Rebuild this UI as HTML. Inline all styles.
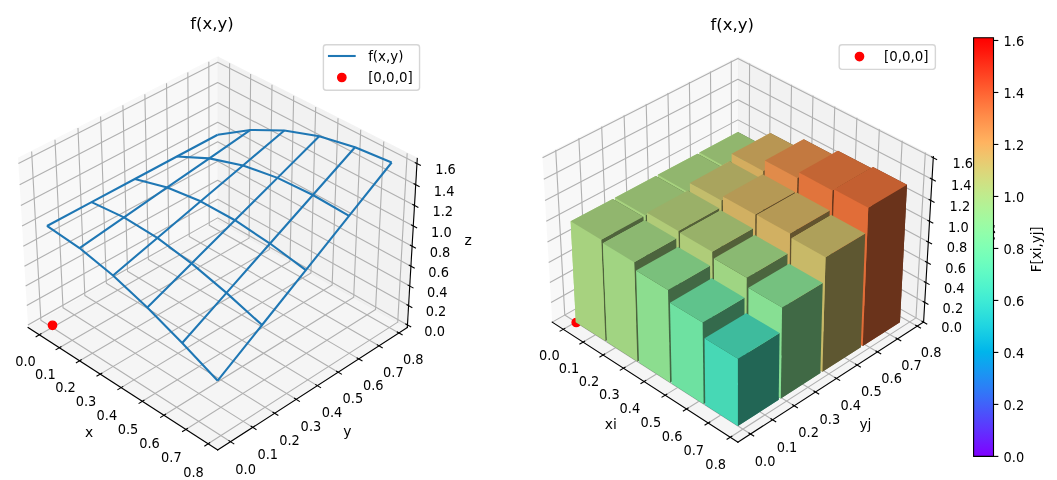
<!DOCTYPE html>
<html><head><meta charset="utf-8"><title>f(x,y)</title>
<style>html,body{margin:0;padding:0;background:#fff;overflow:hidden}svg{display:block}text{font-family:"DejaVu Sans","Liberation Sans",sans-serif}</style></head>
<body>
<svg width="1057" height="480" viewBox="0 0 761.04 345.6" version="1.1">
 
 <defs>
  <style type="text/css">*{stroke-linejoin: round; stroke-linecap: butt}</style>
 </defs>
 <g id="figure_1">
  <g id="patch_1">
   <path d="M 0 345.6 
L 761.04 345.6 
L 761.04 0 
L 0 0 
z
" style="fill: #ffffff"/>
  </g>
  <g id="pane3d_1">
   <g id="patch_2">
    <path d="M 20.207757 235.79651 
L 156.732149 158.686188 
L 156.732149 41.211562 
L 13.03231 114.061227 
" style="fill: #f2f2f2; opacity: 0.5; stroke: #f2f2f2; stroke-linejoin: miter"/>
   </g>
  </g>
  <g id="pane3d_2">
   <g id="patch_3">
    <path d="M 156.732149 158.686188 
L 293.256541 235.79651 
L 300.431988 114.061227 
L 156.732149 41.211562 
" style="fill: #e6e6e6; opacity: 0.5; stroke: #e6e6e6; stroke-linejoin: miter"/>
   </g>
  </g>
  <g id="pane3d_3">
   <g id="patch_4">
    <path d="M 20.207757 235.79651 
L 156.732149 324.023113 
L 293.256541 235.79651 
L 156.732149 158.686188 
" style="fill: #ececec; opacity: 0.5; stroke: #ececec; stroke-linejoin: miter"/>
   </g>
  </g>
  <g id="grid3d_1">
   <g id="Line3DCollection_1">
    <path d="M 28.34474 241.054899 
L 164.90387 163.301656 
L 165.306667 45.558476 
" style="fill: none; stroke: #b0b0b0; stroke-width: 0.8"/>
    <path d="M 42.725394 250.348156 
L 179.335109 171.452562 
L 180.457524 53.239311 
" style="fill: none; stroke: #b0b0b0; stroke-width: 0.8"/>
    <path d="M 57.325142 259.782998 
L 193.972107 179.719683 
L 195.835207 61.035138 
" style="fill: none; stroke: #b0b0b0; stroke-width: 0.8"/>
    <path d="M 72.149027 269.362686 
L 208.819295 188.105521 
L 211.444848 68.948558 
" style="fill: none; stroke: #b0b0b0; stroke-width: 0.8"/>
    <path d="M 87.202252 279.090581 
L 223.881234 196.612653 
L 227.291736 76.982251 
" style="fill: none; stroke: #b0b0b0; stroke-width: 0.8"/>
    <path d="M 102.490181 288.970148 
L 239.162617 205.243728 
L 243.381319 85.138981 
" style="fill: none; stroke: #b0b0b0; stroke-width: 0.8"/>
    <path d="M 118.018344 299.004964 
L 254.668275 214.001477 
L 259.719218 93.421596 
" style="fill: none; stroke: #b0b0b0; stroke-width: 0.8"/>
    <path d="M 133.792451 309.198716 
L 270.403181 222.888707 
L 276.311225 101.833033 
" style="fill: none; stroke: #b0b0b0; stroke-width: 0.8"/>
    <path d="M 149.818389 319.555211 
L 286.372458 231.908312 
L 293.163314 110.37632 
" style="fill: none; stroke: #b0b0b0; stroke-width: 0.8"/>
   </g>
  </g>
  <g id="grid3d_2">
   <g id="Line3DCollection_2">
    <path d="M 22.77815 109.120503 
L 29.438462 230.582917 
L 166.001924 318.032676 
" style="fill: none; stroke: #b0b0b0; stroke-width: 0.8"/>
    <path d="M 39.591883 100.596661 
L 45.373192 221.582825 
L 181.990716 307.700187 
" style="fill: none; stroke: #b0b0b0; stroke-width: 0.8"/>
    <path d="M 56.146417 92.204221 
L 61.074308 212.71468 
L 197.728548 297.529876 
" style="fill: none; stroke: #b0b0b0; stroke-width: 0.8"/>
    <path d="M 72.4477 83.940169 
L 76.546911 203.975601 
L 213.221281 287.517957 
" style="fill: none; stroke: #b0b0b0; stroke-width: 0.8"/>
    <path d="M 88.501499 75.80158 
L 91.795953 195.362792 
L 228.474597 277.660757 
" style="fill: none; stroke: #b0b0b0; stroke-width: 0.8"/>
    <path d="M 104.313408 67.785619 
L 106.826245 186.873535 
L 243.494004 267.954716 
" style="fill: none; stroke: #b0b0b0; stroke-width: 0.8"/>
    <path d="M 119.888853 59.889535 
L 121.64246 178.50519 
L 258.284841 258.396386 
" style="fill: none; stroke: #b0b0b0; stroke-width: 0.8"/>
    <path d="M 135.233099 52.11066 
L 136.24914 170.255193 
L 272.852285 248.982419 
" style="fill: none; stroke: #b0b0b0; stroke-width: 0.8"/>
    <path d="M 150.351256 44.446402 
L 150.650698 162.121051 
L 287.201362 239.709568 
" style="fill: none; stroke: #b0b0b0; stroke-width: 0.8"/>
   </g>
  </g>
  <g id="grid3d_3">
   <g id="Line3DCollection_3">
    <path d="M 293.366452 233.931807 
L 156.732149 156.880882 
L 20.097846 233.931807 
" style="fill: none; stroke: #b0b0b0; stroke-width: 0.8"/>
    <path d="M 294.186153 220.02514 
L 156.732149 143.422961 
L 19.278145 220.02514 
" style="fill: none; stroke: #b0b0b0; stroke-width: 0.8"/>
    <path d="M 295.015749 205.950607 
L 156.732149 129.812948 
L 18.448549 205.950607 
" style="fill: none; stroke: #b0b0b0; stroke-width: 0.8"/>
    <path d="M 295.855419 191.70515 
L 156.732149 116.048251 
L 17.608879 191.70515 
" style="fill: none; stroke: #b0b0b0; stroke-width: 0.8"/>
    <path d="M 296.705349 177.285637 
L 156.732149 102.126217 
L 16.758949 177.285637 
" style="fill: none; stroke: #b0b0b0; stroke-width: 0.8"/>
    <path d="M 297.565728 162.688858 
L 156.732149 88.044133 
L 15.898571 162.688858 
" style="fill: none; stroke: #b0b0b0; stroke-width: 0.8"/>
    <path d="M 298.436749 147.911525 
L 156.732149 73.799224 
L 15.02755 147.911525 
" style="fill: none; stroke: #b0b0b0; stroke-width: 0.8"/>
    <path d="M 299.318611 132.950265 
L 156.732149 59.388649 
L 14.145688 132.950265 
" style="fill: none; stroke: #b0b0b0; stroke-width: 0.8"/>
    <path d="M 300.211518 117.801624 
L 156.732149 44.809501 
L 13.252781 117.801624 
" style="fill: none; stroke: #b0b0b0; stroke-width: 0.8"/>
   </g>
  </g>
  <g id="axis3d_1">
   <g id="line2d_1">
    <path d="M 20.207757 235.79651 
L 156.732149 324.023113 
" style="fill: none; stroke: #000000; stroke-width: 0.8; stroke-linecap: square"/>
   </g>
   <g id="xtick_1">
    <g id="line2d_2">
     <path d="M 29.51035 240.39123 
L 26.009737 242.384389 
" style="fill: none; stroke: #000000; stroke-width: 0.8; stroke-linecap: square"/>
    </g>
    <g id="text_1">
     <text style="font-size: 10px; font-family: 'DejaVu Sans', sans-serif; text-anchor: middle" transform="translate(18.334 263.590) scale(0.935 1)">0.0</text>
    </g>
   </g>
   <g id="xtick_2">
    <g id="line2d_3">
     <path d="M 43.891989 249.674418 
L 40.388391 251.697835 
" style="fill: none; stroke: #000000; stroke-width: 0.8; stroke-linecap: square"/>
    </g>
    <g id="text_2">
     <text style="font-size: 10px; font-family: 'DejaVu Sans', sans-serif; text-anchor: middle" transform="translate(32.657 273.004) scale(0.935 1)">0.1</text>
    </g>
   </g>
   <g id="xtick_3">
    <g id="line2d_4">
     <path d="M 58.492616 259.098959 
L 54.986347 261.15333 
" style="fill: none; stroke: #000000; stroke-width: 0.8; stroke-linecap: square"/>
    </g>
    <g id="text_3">
     <text style="font-size: 10px; font-family: 'DejaVu Sans', sans-serif; text-anchor: middle" transform="translate(47.198 282.560) scale(0.935 1)">0.2</text>
    </g>
   </g>
   <g id="xtick_4">
    <g id="line2d_5">
     <path d="M 73.317271 268.668108 
L 69.808662 270.754148 
" style="fill: none; stroke: #000000; stroke-width: 0.8; stroke-linecap: square"/>
    </g>
    <g id="text_4">
     <text style="font-size: 10px; font-family: 'DejaVu Sans', sans-serif; text-anchor: middle" transform="translate(61.963 292.264) scale(0.935 1)">0.3</text>
    </g>
   </g>
   <g id="xtick_5">
    <g id="line2d_6">
     <path d="M 88.371149 278.385218 
L 84.860548 280.503665 
" style="fill: none; stroke: #000000; stroke-width: 0.8; stroke-linecap: square"/>
    </g>
    <g id="text_5">
     <text style="font-size: 10px; font-family: 'DejaVu Sans', sans-serif; text-anchor: middle" transform="translate(76.957 302.118) scale(0.935 1)">0.4</text>
    </g>
   </g>
   <g id="xtick_6">
    <g id="line2d_7">
     <path d="M 103.65961 288.253749 
L 100.14738 290.405363 
" style="fill: none; stroke: #000000; stroke-width: 0.8; stroke-linecap: square"/>
    </g>
    <g id="text_6">
     <text style="font-size: 10px; font-family: 'DejaVu Sans', sans-serif; text-anchor: middle" transform="translate(92.185 312.125) scale(0.935 1)">0.5</text>
    </g>
   </g>
   <g id="xtick_7">
    <g id="line2d_8">
     <path d="M 119.188178 298.277266 
L 115.674702 300.462834 
" style="fill: none; stroke: #000000; stroke-width: 0.8; stroke-linecap: square"/>
    </g>
    <g id="text_7">
     <text style="font-size: 10px; font-family: 'DejaVu Sans', sans-serif; text-anchor: middle" transform="translate(107.652 322.291) scale(0.935 1)">0.6</text>
    </g>
   </g>
   <g id="xtick_8">
    <g id="line2d_9">
     <path d="M 134.962555 308.45945 
L 131.448234 310.679781 
" style="fill: none; stroke: #000000; stroke-width: 0.8; stroke-linecap: square"/>
    </g>
    <g id="text_8">
     <text style="font-size: 10px; font-family: 'DejaVu Sans', sans-serif; text-anchor: middle" transform="translate(123.365 332.617) scale(0.935 1)">0.7</text>
    </g>
   </g>
   <g id="xtick_9">
    <g id="line2d_10">
     <path d="M 150.988624 318.804099 
L 147.47388 321.060029 
" style="fill: none; stroke: #000000; stroke-width: 0.8; stroke-linecap: square"/>
    </g>
    <g id="text_9">
     <text style="font-size: 10px; font-family: 'DejaVu Sans', sans-serif; text-anchor: middle" transform="translate(139.329 343.109) scale(0.935 1)">0.8</text>
    </g>
   </g>
   <g id="text_10">
    <text style="font-size: 10px; font-family: 'DejaVu Sans', sans-serif; text-anchor: middle" transform="translate(64.087 314.735)">x</text>
   </g>
  </g>
  <g id="axis3d_2">
   <g id="line2d_11">
    <path d="M 293.256541 235.79651 
L 156.732149 324.023113 
" style="fill: none; stroke: #000000; stroke-width: 0.8; stroke-linecap: square"/>
   </g>
   <g id="xtick_10">
    <g id="line2d_12">
     <path d="M 164.831699 317.283311 
L 168.346408 319.53399 
" style="fill: none; stroke: #000000; stroke-width: 0.8; stroke-linecap: square"/>
    </g>
    <g id="text_11">
     <text style="font-size: 10px; font-family: 'DejaVu Sans', sans-serif; text-anchor: middle" transform="translate(176.842 341.134) scale(0.935 1)">0.0</text>
    </g>
   </g>
   <g id="xtick_11">
    <g id="line2d_13">
     <path d="M 180.820643 306.962626 
L 184.334866 309.17783 
" style="fill: none; stroke: #000000; stroke-width: 0.8; stroke-linecap: square"/>
    </g>
    <g id="text_12">
     <text style="font-size: 10px; font-family: 'DejaVu Sans', sans-serif; text-anchor: middle" transform="translate(192.769 330.667) scale(0.935 1)">0.1</text>
    </g>
   </g>
   <g id="xtick_12">
    <g id="line2d_14">
     <path d="M 196.558765 296.803844 
L 200.072083 298.984405 
" style="fill: none; stroke: #000000; stroke-width: 0.8; stroke-linecap: square"/>
    </g>
    <g id="text_13">
     <text style="font-size: 10px; font-family: 'DejaVu Sans', sans-serif; text-anchor: middle" transform="translate(208.446 320.364) scale(0.935 1)">0.2</text>
    </g>
   </g>
   <g id="xtick_13">
    <g id="line2d_15">
     <path d="M 212.051922 286.803185 
L 215.563937 288.949908 
" style="fill: none; stroke: #000000; stroke-width: 0.8; stroke-linecap: square"/>
    </g>
    <g id="text_14">
     <text style="font-size: 10px; font-family: 'DejaVu Sans', sans-serif; text-anchor: middle" transform="translate(223.878 310.222) scale(0.935 1)">0.3</text>
    </g>
   </g>
   <g id="xtick_14">
    <g id="line2d_16">
     <path d="M 227.305788 276.956985 
L 230.816121 279.070652 
" style="fill: none; stroke: #000000; stroke-width: 0.8; stroke-linecap: square"/>
    </g>
    <g id="text_15">
     <text style="font-size: 10px; font-family: 'DejaVu Sans', sans-serif; text-anchor: middle" transform="translate(239.071 300.237) scale(0.935 1)">0.4</text>
    </g>
   </g>
   <g id="xtick_15">
    <g id="line2d_17">
     <path d="M 242.325865 267.261692 
L 245.834154 269.343062 
" style="fill: none; stroke: #000000; stroke-width: 0.8; stroke-linecap: square"/>
    </g>
    <g id="text_16">
     <text style="font-size: 10px; font-family: 'DejaVu Sans', sans-serif; text-anchor: middle" transform="translate(254.031 290.406) scale(0.935 1)">0.5</text>
    </g>
   </g>
   <g id="xtick_16">
    <g id="line2d_18">
     <path d="M 257.117488 257.713865 
L 260.623387 259.763672 
" style="fill: none; stroke: #000000; stroke-width: 0.8; stroke-linecap: square"/>
    </g>
    <g id="text_17">
     <text style="font-size: 10px; font-family: 'DejaVu Sans', sans-serif; text-anchor: middle" transform="translate(268.763 280.724) scale(0.935 1)">0.6</text>
    </g>
   </g>
   <g id="xtick_17">
    <g id="line2d_19">
     <path d="M 271.685828 248.310165 
L 275.18901 250.329121 
" style="fill: none; stroke: #000000; stroke-width: 0.8; stroke-linecap: square"/>
    </g>
    <g id="text_18">
     <text style="font-size: 10px; font-family: 'DejaVu Sans', sans-serif; text-anchor: middle" transform="translate(283.272 271.188) scale(0.935 1)">0.7</text>
    </g>
   </g>
   <g id="xtick_18">
    <g id="line2d_20">
     <path d="M 286.035903 239.047351 
L 289.536055 241.036149 
" style="fill: none; stroke: #000000; stroke-width: 0.8; stroke-linecap: square"/>
    </g>
    <g id="text_19">
     <text style="font-size: 10px; font-family: 'DejaVu Sans', sans-serif; text-anchor: middle" transform="translate(297.564 261.796) scale(0.935 1)">0.8</text>
    </g>
   </g>
   <g id="text_20">
    <text style="font-size: 10px; font-family: 'DejaVu Sans', sans-serif; text-anchor: middle" transform="translate(250.097 314.015)">y</text>
   </g>
  </g>
  <g id="axis3d_3">
   <g id="line2d_21">
    <path d="M 293.256541 235.79651 
L 300.431988 114.061227 
" style="fill: none; stroke: #000000; stroke-width: 0.8; stroke-linecap: square"/>
   </g>
   <g id="xtick_19">
    <g id="line2d_22">
     <path d="M 292.200454 233.274277 
L 295.702218 235.248994 
" style="fill: none; stroke: #000000; stroke-width: 0.8; stroke-linecap: square"/>
    </g>
    <g id="text_21">
     <text style="font-size: 10px; font-family: 'DejaVu Sans', sans-serif; text-anchor: middle" transform="translate(312.974 241.746) scale(0.935 1)">0.0</text>
    </g>
   </g>
   <g id="xtick_20">
    <g id="line2d_23">
     <path d="M 293.012721 219.371194 
L 296.536836 221.335159 
" style="fill: none; stroke: #000000; stroke-width: 0.8; stroke-linecap: square"/>
    </g>
    <g id="text_22">
     <text style="font-size: 10px; font-family: 'DejaVu Sans', sans-serif; text-anchor: middle" transform="translate(313.912 227.840) scale(0.935 1)">0.2</text>
    </g>
   </g>
   <g id="xtick_21">
    <g id="line2d_24">
     <path d="M 293.834786 205.30038 
L 297.381539 207.253189 
" style="fill: none; stroke: #000000; stroke-width: 0.8; stroke-linecap: square"/>
    </g>
    <g id="text_23">
     <text style="font-size: 10px; font-family: 'DejaVu Sans', sans-serif; text-anchor: middle" transform="translate(314.860 213.765) scale(0.935 1)">0.4</text>
    </g>
   </g>
   <g id="xtick_22">
    <g id="line2d_25">
     <path d="M 294.66683 191.058781 
L 298.236512 193.000017 
" style="fill: none; stroke: #000000; stroke-width: 0.8; stroke-linecap: square"/>
    </g>
    <g id="text_24">
     <text style="font-size: 10px; font-family: 'DejaVu Sans', sans-serif; text-anchor: middle" transform="translate(315.821 199.520) scale(0.935 1)">0.6</text>
    </g>
   </g>
   <g id="xtick_23">
    <g id="line2d_26">
     <path d="M 295.509034 176.643269 
L 299.101943 178.572502 
" style="fill: none; stroke: #000000; stroke-width: 0.8; stroke-linecap: square"/>
    </g>
    <g id="text_25">
     <text style="font-size: 10px; font-family: 'DejaVu Sans', sans-serif; text-anchor: middle" transform="translate(316.792 185.100) scale(0.935 1)">0.8</text>
    </g>
   </g>
   <g id="xtick_24">
    <g id="line2d_27">
     <path d="M 296.361586 162.050638 
L 299.978025 163.967426 
" style="fill: none; stroke: #000000; stroke-width: 0.8; stroke-linecap: square"/>
    </g>
    <g id="text_26">
     <text style="font-size: 10px; font-family: 'DejaVu Sans', sans-serif; text-anchor: middle" transform="translate(317.776 170.503) scale(0.935 1)">1.0</text>
    </g>
   </g>
   <g id="xtick_25">
    <g id="line2d_28">
     <path d="M 297.224678 147.277605 
L 300.864956 149.181491 
" style="fill: none; stroke: #000000; stroke-width: 0.8; stroke-linecap: square"/>
    </g>
    <g id="text_27">
     <text style="font-size: 10px; font-family: 'DejaVu Sans', sans-serif; text-anchor: middle" transform="translate(318.772 155.726) scale(0.935 1)">1.2</text>
    </g>
   </g>
   <g id="xtick_26">
    <g id="line2d_29">
     <path d="M 298.098506 132.320802 
L 301.762938 134.211315 
" style="fill: none; stroke: #000000; stroke-width: 0.8; stroke-linecap: square"/>
    </g>
    <g id="text_28">
     <text style="font-size: 10px; font-family: 'DejaVu Sans', sans-serif; text-anchor: middle" transform="translate(319.781 140.765) scale(0.935 1)">1.4</text>
    </g>
   </g>
   <g id="xtick_27">
    <g id="line2d_30">
     <path d="M 298.983272 117.17678 
L 302.67218 119.053434 
" style="fill: none; stroke: #000000; stroke-width: 0.8; stroke-linecap: square"/>
    </g>
    <g id="text_29">
     <text style="font-size: 10px; font-family: 'DejaVu Sans', sans-serif; text-anchor: middle" transform="translate(320.802 125.616) scale(0.935 1)">1.6</text>
    </g>
   </g>
   <g id="text_30">
    <text style="font-size: 10px; font-family: 'DejaVu Sans', sans-serif; text-anchor: middle" transform="translate(336.979 176.727)">z</text>
   </g>
  </g>
  <g id="axes_1">
   <g id="line2d_31">
    <defs>
     <path id="mdc82b86219" d="M 0 3 
C 0.795609 3 1.55874 2.683901 2.12132 2.12132 
C 2.683901 1.55874 3 0.795609 3 0 
C 3 -0.795609 2.683901 -1.55874 2.12132 -2.12132 
C 1.55874 -2.683901 0.795609 -3 0 -3 
C -0.795609 -3 -1.55874 -2.683901 -2.12132 -2.12132 
C -2.683901 -1.55874 -3 -0.795609 -3 0 
C -3 0.795609 -2.683901 1.55874 -2.12132 2.12132 
C -1.55874 2.683901 -0.795609 3 0 3 
z
" style="stroke: #ff0000"/>
    </defs>
    <g clip-path="url(#pf2d1e078a7)">
     <use href="#mdc82b86219" x="37.8000" y="234.2160" style="fill: #ff0000; stroke: #ff0000"/>
    </g>
   </g>
   <g id="Line3DCollection_4">
    <path d="M 33.819269 162.688858 
L 57.272574 178.599468 
L 81.381137 198.325168 
L 106.047257 221.38253 
L 131.183676 246.977576 
L 156.732149 274.101652 
" clip-path="url(#pf2d1e078a7)" style="fill: none; stroke: #1f77b4; stroke-width: 1.5"/>
    <path d="M 65.921697 145.532311 
L 89.257634 156.503258 
L 113.283614 171.324933 
L 137.912604 189.663218 
L 163.066348 210.858765 
L 188.692952 234.013546 
" clip-path="url(#pf2d1e078a7)" style="fill: none; stroke: #1f77b4; stroke-width: 1.5"/>
    <path d="M 97.081074 128.879759 
L 120.408062 134.983637 
L 144.459623 144.939534 
L 169.15609 158.562918 
L 194.425046 175.333547 
L 220.218034 194.471959 
" clip-path="url(#pf2d1e078a7)" style="fill: none; stroke: #1f77b4; stroke-width: 1.5"/>
    <path d="M 127.338353 112.709318 
L 150.756105 114.018325 
L 174.9337 119.148206 
L 199.795741 128.063684 
L 225.27258 140.387409 
L 251.316245 155.465792 
" clip-path="url(#pf2d1e078a7)" style="fill: none; stroke: #1f77b4; stroke-width: 1.5"/>
    <path d="M 156.732149 97.000348 
L 180.332373 93.586179 
L 204.729286 93.931109 
L 229.848897 98.148259 
L 255.621349 106.006306 
L 281.996198 116.984242 
" clip-path="url(#pf2d1e078a7)" style="fill: none; stroke: #1f77b4; stroke-width: 1.5"/>
    <path d="M 33.819269 162.688858 
L 65.921697 145.532311 
L 97.081074 128.879759 
L 127.338353 112.709318 
L 156.732149 97.000348 
" clip-path="url(#pf2d1e078a7)" style="fill: none; stroke: #1f77b4; stroke-width: 1.5"/>
    <path d="M 57.272574 178.599468 
L 89.257634 156.503258 
L 120.408062 134.983637 
L 150.756105 114.018325 
L 180.332373 93.586179 
" clip-path="url(#pf2d1e078a7)" style="fill: none; stroke: #1f77b4; stroke-width: 1.5"/>
    <path d="M 81.381137 198.325168 
L 113.283614 171.324933 
L 144.459623 144.939534 
L 174.9337 119.148206 
L 204.729286 93.931109 
" clip-path="url(#pf2d1e078a7)" style="fill: none; stroke: #1f77b4; stroke-width: 1.5"/>
    <path d="M 106.047257 221.38253 
L 137.912604 189.663218 
L 169.15609 158.562918 
L 199.795741 128.063684 
L 229.848897 98.148259 
" clip-path="url(#pf2d1e078a7)" style="fill: none; stroke: #1f77b4; stroke-width: 1.5"/>
    <path d="M 131.183676 246.977576 
L 163.066348 210.858765 
L 194.425046 175.333547 
L 225.27258 140.387409 
L 255.621349 106.006306 
" clip-path="url(#pf2d1e078a7)" style="fill: none; stroke: #1f77b4; stroke-width: 1.5"/>
    <path d="M 156.732149 274.101652 
L 188.692952 234.013546 
L 220.218034 194.471959 
L 251.316245 155.465792 
L 281.996198 116.984242 
" clip-path="url(#pf2d1e078a7)" style="fill: none; stroke: #1f77b4; stroke-width: 1.5"/>
   </g>
   <g id="text_31">
    <text style="font-size: 12px; font-family: 'DejaVu Sans', sans-serif; text-anchor: middle" transform="translate(152.574 20.785) scale(0.990 1)">f(x,y)</text>
   </g>
   <g id="legend_1" transform="translate(-0.072 0.432)">
    <g id="patch_5" transform="translate(0.720 0)">
     <path d="M 234.187285 64.59169 
L 299.43416 64.59169 
Q 301.43416 64.59169 301.43416 62.59169 
L 301.43416 33.78544 
Q 301.43416 31.78544 299.43416 31.78544 
L 234.187285 31.78544 
Q 232.187285 31.78544 232.187285 33.78544 
L 232.187285 62.59169 
Q 232.187285 64.59169 234.187285 64.59169 
z
" style="fill: #ffffff; opacity: 0.8; stroke: #cccccc; stroke-linejoin: miter"/>
    </g>
    <g id="line2d_32">
     <path d="M 236.187285 39.883877 
L 256.187285 39.883877 
" style="fill: none; stroke: #1f77b4; stroke-width: 1.5"/>
    </g>
    <g id="text_32">
     <text style="font-size: 10px; font-family: 'DejaVu Sans', sans-serif; text-anchor: start" transform="translate(265.123 43.384) scale(0.965 1)">f(x,y)</text>
    </g>
    <g id="line2d_33">
     <g>
      <use href="#mdc82b86219" x="246.1873" y="55.3720" style="fill: #ff0000; stroke: #ff0000"/>
     </g>
    </g>
    <g id="text_33">
     <text style="font-size: 10px; font-family: 'DejaVu Sans', sans-serif; text-anchor: start" transform="translate(265.123 58.872) scale(0.965 1)">[0,0,0]</text>
    </g>
   </g>
  </g>
  <g id="pane3d_4">
   <g id="patch_6">
    <path d="M 397.593688 231.94097 
L 531.287864 156.429182 
L 531.287864 41.389862 
L 390.566992 112.729318 
" style="fill: #f2f2f2; opacity: 0.5; stroke: #f2f2f2; stroke-linejoin: miter"/>
   </g>
  </g>
  <g id="pane3d_5">
   <g id="patch_7">
    <path d="M 531.287864 156.429182 
L 664.982039 231.94097 
L 672.008736 112.729318 
L 531.287864 41.389862 
" style="fill: #e6e6e6; opacity: 0.5; stroke: #e6e6e6; stroke-linejoin: miter"/>
   </g>
  </g>
  <g id="pane3d_6">
   <g id="patch_8">
    <path d="M 397.593688 231.94097 
L 531.287864 318.338593 
L 664.982039 231.94097 
L 531.287864 156.429182 
" style="fill: #ececec; opacity: 0.5; stroke: #ececec; stroke-linejoin: miter"/>
   </g>
  </g>
  <g id="grid3d_4">
   <g id="Line3DCollection_5">
    <path d="M 405.563616 237.091402 
L 539.291816 160.949893 
L 539.686344 45.647531 
" style="fill: none; stroke: #b0b0b0; stroke-width: 0.8"/>
    <path d="M 419.789086 246.284375 
L 553.567254 169.012801 
L 554.673686 53.245472 
" style="fill: none; stroke: #b0b0b0; stroke-width: 0.8"/>
    <path d="M 434.233502 255.618836 
L 568.048309 177.191844 
L 569.887699 60.958325 
" style="fill: none; stroke: #b0b0b0; stroke-width: 0.8"/>
    <path d="M 448.901956 265.098079 
L 582.739456 185.489548 
L 585.333566 68.788718 
" style="fill: none; stroke: #b0b0b0; stroke-width: 0.8"/>
    <path d="M 463.799703 274.725499 
L 597.645298 193.908515 
L 601.016627 76.739359 
" style="fill: none; stroke: #b0b0b0; stroke-width: 0.8"/>
    <path d="M 478.93216 284.504596 
L 612.770579 202.451423 
L 616.942389 84.813038 
" style="fill: none; stroke: #b0b0b0; stroke-width: 0.8"/>
    <path d="M 494.304918 294.438983 
L 628.120178 211.121028 
L 633.116528 93.012634 
" style="fill: none; stroke: #b0b0b0; stroke-width: 0.8"/>
    <path d="M 509.923748 304.532391 
L 643.699124 219.92017 
L 649.544901 101.341116 
" style="fill: none; stroke: #b0b0b0; stroke-width: 0.8"/>
    <path d="M 525.794605 314.788666 
L 659.512596 228.851775 
L 666.23355 109.801546 
" style="fill: none; stroke: #b0b0b0; stroke-width: 0.8"/>
   </g>
  </g>
  <g id="grid3d_5">
   <g id="Line3DCollection_6">
    <path d="M 400.112729 107.890038 
L 406.634868 226.834423 
L 540.367311 312.471152 
" style="fill: none; stroke: #b0b0b0; stroke-width: 0.8"/>
    <path d="M 416.784165 99.438334 
L 422.434817 217.910456 
L 556.220758 302.226127 
" style="fill: none; stroke: #b0b0b0; stroke-width: 0.8"/>
    <path d="M 433.1954 91.11854 
L 438.000248 209.118947 
L 571.822277 292.143907 
" style="fill: none; stroke: #b0b0b0; stroke-width: 0.8"/>
    <path d="M 449.352481 82.927592 
L 453.336342 200.45697 
L 587.177825 282.220641 
" style="fill: none; stroke: #b0b0b0; stroke-width: 0.8"/>
    <path d="M 465.261265 74.86252 
L 468.448132 191.921682 
L 602.293174 272.4526 
" style="fill: none; stroke: #b0b0b0; stroke-width: 0.8"/>
    <path d="M 480.927432 66.920444 
L 483.340503 183.510324 
L 617.173915 262.83617 
" style="fill: none; stroke: #b0b0b0; stroke-width: 0.8"/>
    <path d="M 496.356491 59.098572 
L 498.018199 175.220217 
L 631.825469 253.367848 
" style="fill: none; stroke: #b0b0b0; stroke-width: 0.8"/>
    <path d="M 511.553783 51.394195 
L 512.485829 167.048757 
L 646.253091 244.04424 
" style="fill: none; stroke: #b0b0b0; stroke-width: 0.8"/>
    <path d="M 526.524493 43.804687 
L 526.74787 158.993416 
L 660.461874 234.862051 
" style="fill: none; stroke: #b0b0b0; stroke-width: 0.8"/>
   </g>
  </g>
  <g id="grid3d_6">
   <g id="Line3DCollection_7">
    <path d="M 664.982039 231.94097 
L 531.287864 156.429182 
L 397.593688 231.94097 
" style="fill: none; stroke: #b0b0b0; stroke-width: 0.8"/>
    <path d="M 665.816135 217.790089 
L 531.287864 142.73374 
L 396.759592 217.790089 
" style="fill: none; stroke: #b0b0b0; stroke-width: 0.8"/>
    <path d="M 666.660704 203.461528 
L 531.287864 128.877299 
L 395.915024 203.461528 
" style="fill: none; stroke: #b0b0b0; stroke-width: 0.8"/>
    <path d="M 667.515944 188.951922 
L 531.287864 114.857003 
L 395.059783 188.951922 
" style="fill: none; stroke: #b0b0b0; stroke-width: 0.8"/>
    <path d="M 668.382059 174.257817 
L 531.287864 100.669928 
L 394.193668 174.257817 
" style="fill: none; stroke: #b0b0b0; stroke-width: 0.8"/>
    <path d="M 669.259258 159.37567 
L 531.287864 86.31308 
L 393.316469 159.37567 
" style="fill: none; stroke: #b0b0b0; stroke-width: 0.8"/>
    <path d="M 670.147755 144.30185 
L 531.287864 71.783393 
L 392.427973 144.30185 
" style="fill: none; stroke: #b0b0b0; stroke-width: 0.8"/>
    <path d="M 671.047769 129.03263 
L 531.287864 57.077728 
L 391.527958 129.03263 
" style="fill: none; stroke: #b0b0b0; stroke-width: 0.8"/>
    <path d="M 671.959526 113.564185 
L 531.287864 42.192868 
L 390.616201 113.564185 
" style="fill: none; stroke: #b0b0b0; stroke-width: 0.8"/>
   </g>
  </g>
  <g id="axis3d_4">
   <g id="line2d_34">
    <path d="M 397.593688 231.94097 
L 531.287864 318.338593 
" style="fill: none; stroke: #000000; stroke-width: 0.8; stroke-linecap: square"/>
   </g>
   <g id="xtick_28">
    <g id="line2d_35">
     <path d="M 406.705063 236.441491 
L 403.277019 238.393334 
" style="fill: none; stroke: #000000; stroke-width: 0.8; stroke-linecap: square"/>
    </g>
    <g id="text_34">
     <text style="font-size: 10px; font-family: 'DejaVu Sans', sans-serif; text-anchor: middle" transform="translate(395.553 259.195) scale(0.935 1)">0.0</text>
    </g>
   </g>
   <g id="xtick_29">
    <g id="line2d_36">
     <path d="M 420.931507 245.624502 
L 417.500511 247.606278 
" style="fill: none; stroke: #000000; stroke-width: 0.8; stroke-linecap: square"/>
    </g>
    <g id="text_35">
     <text style="font-size: 10px; font-family: 'DejaVu Sans', sans-serif; text-anchor: middle" transform="translate(409.720 268.509) scale(0.935 1)">0.1</text>
    </g>
   </g>
   <g id="xtick_30">
    <g id="line2d_37">
     <path d="M 435.37679 254.948771 
L 431.943158 256.961175 
" style="fill: none; stroke: #000000; stroke-width: 0.8; stroke-linecap: square"/>
    </g>
    <g id="text_36">
     <text style="font-size: 10px; font-family: 'DejaVu Sans', sans-serif; text-anchor: middle" transform="translate(424.105 277.967) scale(0.935 1)">0.2</text>
    </g>
   </g>
   <g id="xtick_31">
    <g id="line2d_38">
     <path d="M 450.046003 264.417583 
L 446.610065 266.46133 
" style="fill: none; stroke: #000000; stroke-width: 0.8; stroke-linecap: square"/>
    </g>
    <g id="text_37">
     <text style="font-size: 10px; font-family: 'DejaVu Sans', sans-serif; text-anchor: middle" transform="translate(438.714 287.571) scale(0.935 1)">0.3</text>
    </g>
   </g>
   <g id="xtick_32">
    <g id="line2d_39">
     <path d="M 464.944391 274.034327 
L 461.506495 276.110155 
" style="fill: none; stroke: #000000; stroke-width: 0.8; stroke-linecap: square"/>
    </g>
    <g id="text_38">
     <text style="font-size: 10px; font-family: 'DejaVu Sans', sans-serif; text-anchor: middle" transform="translate(453.552 297.326) scale(0.935 1)">0.4</text>
    </g>
   </g>
   <g id="xtick_33">
    <g id="line2d_40">
     <path d="M 480.077369 283.802495 
L 476.637879 285.911165 
" style="fill: none; stroke: #000000; stroke-width: 0.8; stroke-linecap: square"/>
    </g>
    <g id="text_39">
     <text style="font-size: 10px; font-family: 'DejaVu Sans', sans-serif; text-anchor: middle" transform="translate(468.624 307.235) scale(0.935 1)">0.5</text>
    </g>
   </g>
   <g id="xtick_34">
    <g id="line2d_41">
     <path d="M 495.45052 293.725692 
L 492.009819 295.86799 
" style="fill: none; stroke: #000000; stroke-width: 0.8; stroke-linecap: square"/>
    </g>
    <g id="text_40">
     <text style="font-size: 10px; font-family: 'DejaVu Sans', sans-serif; text-anchor: middle" transform="translate(483.935 317.301) scale(0.935 1)">0.6</text>
    </g>
   </g>
   <g id="xtick_35">
    <g id="line2d_42">
     <path d="M 511.069609 303.807639 
L 507.628099 305.984376 
" style="fill: none; stroke: #000000; stroke-width: 0.8; stroke-linecap: square"/>
    </g>
    <g id="text_41">
     <text style="font-size: 10px; font-family: 'DejaVu Sans', sans-serif; text-anchor: middle" transform="translate(499.492 327.529) scale(0.935 1)">0.7</text>
    </g>
   </g>
   <g id="xtick_36">
    <g id="line2d_43">
     <path d="M 526.940584 314.052176 
L 523.498687 316.264189 
" style="fill: none; stroke: #000000; stroke-width: 0.8; stroke-linecap: square"/>
    </g>
    <g id="text_42">
     <text style="font-size: 10px; font-family: 'DejaVu Sans', sans-serif; text-anchor: middle" transform="translate(515.300 337.922) scale(0.935 1)">0.8</text>
    </g>
   </g>
   <g id="text_43">
    <text style="font-size: 10px; font-family: 'DejaVu Sans', sans-serif; text-anchor: middle" transform="translate(439.818 308.559)">xi</text>
   </g>
  </g>
  <g id="axis3d_5">
   <g id="line2d_44">
    <path d="M 664.982039 231.94097 
L 531.287864 318.338593 
" style="fill: none; stroke: #000000; stroke-width: 0.8; stroke-linecap: square"/>
   </g>
   <g id="xtick_37">
    <g id="line2d_45">
     <path d="M 539.221345 311.737324 
L 542.663193 313.941341 
" style="fill: none; stroke: #000000; stroke-width: 0.8; stroke-linecap: square"/>
    </g>
    <g id="text_44">
     <text style="font-size: 10px; font-family: 'DejaVu Sans', sans-serif; text-anchor: middle" transform="translate(550.848 335.573) scale(0.935 1)">0.0</text>
    </g>
   </g>
   <g id="xtick_38">
    <g id="line2d_46">
     <path d="M 555.074944 301.504003 
L 558.516306 303.672846 
" style="fill: none; stroke: #000000; stroke-width: 0.8; stroke-linecap: square"/>
    </g>
    <g id="text_45">
     <text style="font-size: 10px; font-family: 'DejaVu Sans', sans-serif; text-anchor: middle" transform="translate(566.639 325.192) scale(0.935 1)">0.1</text>
    </g>
   </g>
   <g id="xtick_39">
    <g id="line2d_47">
     <path d="M 570.676754 291.433209 
L 574.117211 293.567714 
" style="fill: none; stroke: #000000; stroke-width: 0.8; stroke-linecap: square"/>
    </g>
    <g id="text_46">
     <text style="font-size: 10px; font-family: 'DejaVu Sans', sans-serif; text-anchor: middle" transform="translate(582.178 314.976) scale(0.935 1)">0.2</text>
    </g>
   </g>
   <g id="xtick_40">
    <g id="line2d_48">
     <path d="M 586.032726 281.5211 
L 589.471879 283.622077 
" style="fill: none; stroke: #000000; stroke-width: 0.8; stroke-linecap: square"/>
    </g>
    <g id="text_47">
     <text style="font-size: 10px; font-family: 'DejaVu Sans', sans-serif; text-anchor: middle" transform="translate(597.472 304.921) scale(0.935 1)">0.3</text>
    </g>
   </g>
   <g id="xtick_41">
    <g id="line2d_49">
     <path d="M 601.148625 271.763956 
L 604.586094 273.832188 
" style="fill: none; stroke: #000000; stroke-width: 0.8; stroke-linecap: square"/>
    </g>
    <g id="text_48">
     <text style="font-size: 10px; font-family: 'DejaVu Sans', sans-serif; text-anchor: middle" transform="translate(612.527 295.023) scale(0.935 1)">0.4</text>
    </g>
   </g>
   <g id="xtick_42">
    <g id="line2d_50">
     <path d="M 616.030038 262.15817 
L 619.46546 264.194416 
" style="fill: none; stroke: #000000; stroke-width: 0.8; stroke-linecap: square"/>
    </g>
    <g id="text_49">
     <text style="font-size: 10px; font-family: 'DejaVu Sans', sans-serif; text-anchor: middle" transform="translate(627.347 285.280) scale(0.935 1)">0.5</text>
    </g>
   </g>
   <g id="xtick_43">
    <g id="line2d_51">
     <path d="M 630.682379 252.700248 
L 634.115409 254.705245 
" style="fill: none; stroke: #000000; stroke-width: 0.8; stroke-linecap: square"/>
    </g>
    <g id="text_50">
     <text style="font-size: 10px; font-family: 'DejaVu Sans', sans-serif; text-anchor: middle" transform="translate(641.939 275.686) scale(0.935 1)">0.6</text>
    </g>
   </g>
   <g id="xtick_44">
    <g id="line2d_52">
     <path d="M 645.110897 243.386801 
L 648.541206 245.361262 
" style="fill: none; stroke: #000000; stroke-width: 0.8; stroke-linecap: square"/>
    </g>
    <g id="text_51">
     <text style="font-size: 10px; font-family: 'DejaVu Sans', sans-serif; text-anchor: middle" transform="translate(656.308 266.240) scale(0.935 1)">0.7</text>
    </g>
   </g>
   <g id="xtick_45">
    <g id="line2d_53">
     <path d="M 659.320681 234.214544 
L 662.747956 236.159163 
" style="fill: none; stroke: #000000; stroke-width: 0.8; stroke-linecap: square"/>
    </g>
    <g id="text_52">
     <text style="font-size: 10px; font-family: 'DejaVu Sans', sans-serif; text-anchor: middle" transform="translate(670.459 256.937) scale(0.935 1)">0.8</text>
    </g>
   </g>
   <g id="text_53">
    <text style="font-size: 10px; font-family: 'DejaVu Sans', sans-serif; text-anchor: middle" transform="translate(623.118 308.559)">yj</text>
   </g>
  </g>
  <g id="axis3d_6">
   <g id="line2d_54">
    <path d="M 664.982039 231.94097 
L 672.008736 112.729318 
" style="fill: none; stroke: #000000; stroke-width: 0.8; stroke-linecap: square"/>
   </g>
   <g id="xtick_46">
    <g id="line2d_55">
     <path d="M 663.841189 231.296607 
L 667.267425 233.231779 
" style="fill: none; stroke: #000000; stroke-width: 0.8; stroke-linecap: square"/>
    </g>
    <g id="text_54">
     <text style="font-size: 10px; font-family: 'DejaVu Sans', sans-serif; text-anchor: middle" transform="translate(685.150 239.395) scale(0.935 1)">0.0</text>
    </g>
   </g>
   <g id="xtick_47">
    <g id="line2d_56">
     <path d="M 664.66772 217.149362 
L 668.116699 219.073625 
" style="fill: none; stroke: #000000; stroke-width: 0.8; stroke-linecap: square"/>
    </g>
    <g id="text_55">
     <text style="font-size: 10px; font-family: 'DejaVu Sans', sans-serif; text-anchor: middle" transform="translate(686.107 225.245) scale(0.935 1)">0.2</text>
    </g>
   </g>
   <g id="xtick_48">
    <g id="line2d_57">
     <path d="M 665.504623 202.824581 
L 668.976647 204.737507 
" style="fill: none; stroke: #000000; stroke-width: 0.8; stroke-linecap: square"/>
    </g>
    <g id="text_56">
     <text style="font-size: 10px; font-family: 'DejaVu Sans', sans-serif; text-anchor: middle" transform="translate(687.075 210.916) scale(0.935 1)">0.4</text>
    </g>
   </g>
   <g id="xtick_49">
    <g id="line2d_58">
     <path d="M 666.352095 188.318901 
L 669.847473 190.220049 
" style="fill: none; stroke: #000000; stroke-width: 0.8; stroke-linecap: square"/>
    </g>
    <g id="text_57">
     <text style="font-size: 10px; font-family: 'DejaVu Sans', sans-serif; text-anchor: middle" transform="translate(688.055 196.406) scale(0.935 1)">0.6</text>
    </g>
   </g>
   <g id="xtick_50">
    <g id="line2d_59">
     <path d="M 667.210338 173.628873 
L 670.729385 175.517788 
" style="fill: none; stroke: #000000; stroke-width: 0.8; stroke-linecap: square"/>
    </g>
    <g id="text_58">
     <text style="font-size: 10px; font-family: 'DejaVu Sans', sans-serif; text-anchor: middle" transform="translate(689.048 181.712) scale(0.935 1)">0.8</text>
    </g>
   </g>
   <g id="xtick_51">
    <g id="line2d_60">
     <path d="M 668.079557 158.750961 
L 671.622595 160.627172 
" style="fill: none; stroke: #000000; stroke-width: 0.8; stroke-linecap: square"/>
    </g>
    <g id="text_59">
     <text style="font-size: 10px; font-family: 'DejaVu Sans', sans-serif; text-anchor: middle" transform="translate(690.054 166.830) scale(0.935 1)">1.0</text>
    </g>
   </g>
   <g id="xtick_52">
    <g id="line2d_61">
     <path d="M 668.959965 143.681536 
L 672.527322 145.54456 
" style="fill: none; stroke: #000000; stroke-width: 0.8; stroke-linecap: square"/>
    </g>
    <g id="text_60">
     <text style="font-size: 10px; font-family: 'DejaVu Sans', sans-serif; text-anchor: middle" transform="translate(691.073 151.756) scale(0.935 1)">1.2</text>
    </g>
   </g>
   <g id="xtick_53">
    <g id="line2d_62">
     <path d="M 669.851779 128.416878 
L 673.44379 130.266213 
" style="fill: none; stroke: #000000; stroke-width: 0.8; stroke-linecap: square"/>
    </g>
    <g id="text_61">
     <text style="font-size: 10px; font-family: 'DejaVu Sans', sans-serif; text-anchor: middle" transform="translate(692.105 136.487) scale(0.935 1)">1.4</text>
    </g>
   </g>
   <g id="xtick_54">
    <g id="line2d_63">
     <path d="M 670.755222 112.953168 
L 674.372229 114.788296 
" style="fill: none; stroke: #000000; stroke-width: 0.8; stroke-linecap: square"/>
    </g>
    <g id="text_62">
     <text style="font-size: 10px; font-family: 'DejaVu Sans', sans-serif; text-anchor: middle" transform="translate(693.150 121.019) scale(0.935 1)">1.6</text>
    </g>
   </g>
   <g id="text_63">
    <text style="font-size: 10px; font-family: 'DejaVu Sans', sans-serif; text-anchor: middle" transform="translate(713.834 177.552) rotate(-86.626716) scale(0.970 1)">F[xi,yj]</text>
   </g>
  </g>
  <g id="axes_2">
   <g id="line2d_64">
    <g clip-path="url(#p42509064c3)">
     <use href="#mdc82b86219" x="414.9000" y="232.2000" style="fill: #ff0000; stroke: #ff0000"/>
    </g>
   </g>
   <g id="Poly3DCollection_1">
    <path d="M 504.42317 180.803232 
L 531.287864 165.507144 
L 552.666997 177.67989 
L 525.801506 193.308927 
z
" clip-path="url(#p42509064c3)" style="fill: #657f4d"/>
    <path d="M 531.287864 165.507144 
L 531.287864 95.081054 
L 553.319062 106.844793 
L 552.666997 177.67989 
z
" clip-path="url(#p42509064c3)" style="fill: #4f633c"/>
    <path d="M 504.42317 180.803232 
L 503.601489 109.864421 
L 531.287864 95.081054 
L 531.287864 165.507144 
z
" clip-path="url(#p42509064c3)" style="fill: #a7d27f"/>
    <path d="M 526.939596 193.974677 
L 553.804956 178.327816 
L 575.673675 190.779321 
L 548.814267 206.770713 
z
" clip-path="url(#p42509064c3)" style="fill: #80683a"/>
    <path d="M 475.349028 197.357325 
L 502.989116 181.619747 
L 524.36719 194.143342 
L 496.717705 210.228469 
z
" clip-path="url(#p42509064c3)" style="fill: #657f4d"/>
    <path d="M 525.801506 193.308927 
L 552.666997 177.67989 
L 553.319062 106.844793 
L 525.631815 121.959887 
z
" clip-path="url(#p42509064c3)" style="fill: #4f633c"/>
    <path d="M 504.42317 180.803232 
L 525.801506 193.308927 
L 525.631815 121.959887 
L 503.601489 109.864421 
z
" clip-path="url(#p42509064c3)" style="fill: #a7d27f"/>
    <path d="M 553.804956 178.327816 
L 554.605863 95.743819 
L 577.270214 107.712834 
L 575.673675 190.779321 
z
" clip-path="url(#p42509064c3)" style="fill: #64522d"/>
    <path d="M 502.989116 181.619747 
L 502.122939 110.653905 
L 524.152978 122.767218 
L 524.36719 194.143342 
z
" clip-path="url(#p42509064c3)" style="fill: #4f633c"/>
    <path d="M 549.978934 207.452008 
L 576.837843 191.442169 
L 599.213162 204.182119 
L 572.367426 220.548615 
z
" clip-path="url(#p42509064c3)" style="fill: #88542c"/>
    <path d="M 526.939596 193.974677 
L 526.782744 110.785866 
L 554.605863 95.743819 
L 553.804956 178.327816 
z
" clip-path="url(#p42509064c3)" style="fill: #d4ad5f"/>
    <path d="M 475.349028 197.357325 
L 473.61264 125.877213 
L 502.122939 110.653905 
L 502.989116 181.619747 
z
" clip-path="url(#p42509064c3)" style="fill: #a7d27f"/>
    <path d="M 497.85547 210.913787 
L 525.505276 194.81005 
L 547.38004 207.624614 
L 519.727581 224.088167 
z
" clip-path="url(#p42509064c3)" style="fill: #767241"/>
    <path d="M 445.423742 214.396038 
L 473.873285 198.197576 
L 495.241228 211.087412 
L 466.772923 227.648888 
z
" clip-path="url(#p42509064c3)" style="fill: #657f4d"/>
    <path d="M 503.601489 109.864421 
L 525.631815 121.959887 
L 553.319062 106.844793 
L 531.287864 95.081054 
z
" clip-path="url(#p42509064c3)" style="fill: #91b66e"/>
    <path d="M 573.559611 221.246008 
L 600.404455 204.860411 
L 623.304182 217.898946 
L 596.480244 234.653902 
z
" clip-path="url(#p42509064c3)" style="fill: #884624"/>
    <path d="M 548.814267 206.770713 
L 575.673675 190.779321 
L 577.270214 107.712834 
L 549.453711 123.098162 
z
" clip-path="url(#p42509064c3)" style="fill: #64522d"/>
    <path d="M 496.717705 210.228469 
L 524.36719 194.143342 
L 524.152978 122.767218 
L 495.632381 138.337257 
z
" clip-path="url(#p42509064c3)" style="fill: #4f633c"/>
    <path d="M 576.837843 191.442169 
L 578.636997 100.252415 
L 601.926799 112.458126 
L 599.213162 204.182119 
z
" clip-path="url(#p42509064c3)" style="fill: #6a4223"/>
    <path d="M 525.505276 194.81005 
L 525.307963 116.147668 
L 547.935405 128.506664 
L 547.38004 207.624614 
z
" clip-path="url(#p42509064c3)" style="fill: #5c5933"/>
    <path d="M 526.939596 193.974677 
L 548.814267 206.770713 
L 549.453711 123.098162 
L 526.782744 110.785866 
z
" clip-path="url(#p42509064c3)" style="fill: #d4ad5f"/>
    <path d="M 475.349028 197.357325 
L 496.717705 210.228469 
L 495.632381 138.337257 
L 473.61264 125.877213 
z
" clip-path="url(#p42509064c3)" style="fill: #a7d27f"/>
    <path d="M 549.978934 207.452008 
L 550.727817 115.592608 
L 578.636997 100.252415 
L 576.837843 191.442169 
z
" clip-path="url(#p42509064c3)" style="fill: #e18b4a"/>
    <path d="M 473.873285 198.197576 
L 472.089762 126.690366 
L 494.108698 139.16907 
L 495.241228 211.087412 
z
" clip-path="url(#p42509064c3)" style="fill: #4f633c"/>
    <path d="M 497.85547 210.913787 
L 496.698325 131.680406 
L 525.307963 116.147668 
L 525.505276 194.81005 
z
" clip-path="url(#p42509064c3)" style="fill: #c3bd6c"/>
    <path d="M 520.892309 224.789726 
L 548.544721 208.306902 
L 570.933687 221.422693 
L 543.285856 238.278187 
z
" clip-path="url(#p42509064c3)" style="fill: #7e6a3b"/>
    <path d="M 445.423742 214.396038 
L 442.718205 142.37355 
L 472.089762 126.690366 
L 473.873285 198.197576 
z
" clip-path="url(#p42509064c3)" style="fill: #a7d27f"/>
    <path d="M 467.909844 228.35465 
L 496.378963 211.77373 
L 518.250694 224.967467 
L 489.769536 241.924407 
z
" clip-path="url(#p42509064c3)" style="fill: #6b7a48"/>
    <path d="M 414.609379 231.94097 
L 443.904464 215.261077 
L 465.252397 228.533456 
L 435.928352 245.59276 
z
" clip-path="url(#p42509064c3)" style="fill: #657f4d"/>
    <path d="M 473.61264 125.877213 
L 495.632381 138.337257 
L 524.152978 122.767218 
L 502.122939 110.653905 
z
" clip-path="url(#p42509064c3)" style="fill: #91b66e"/>
    <path d="M 597.700934 235.367969 
L 624.523559 218.593229 
L 647.966349 231.94097 
L 621.17291 249.098381 
z
" clip-path="url(#p42509064c3)" style="fill: #884222"/>
    <path d="M 526.782744 110.785866 
L 549.453711 123.098162 
L 577.270214 107.712834 
L 554.605863 95.743819 
z
" clip-path="url(#p42509064c3)" style="fill: #b89653"/>
    <path d="M 572.367426 220.548615 
L 599.213162 204.182119 
L 601.926799 112.458126 
L 574.032437 128.15389 
z
" clip-path="url(#p42509064c3)" style="fill: #6a4223"/>
    <path d="M 600.404455 204.860411 
L 603.30391 108.573217 
L 627.209069 121.047981 
L 623.304182 217.898946 
z
" clip-path="url(#p42509064c3)" style="fill: #6a371c"/>
    <path d="M 548.544721 208.306902 
L 549.168082 125.520415 
L 572.382363 138.157598 
L 570.933687 221.422693 
z
" clip-path="url(#p42509064c3)" style="fill: #63532e"/>
    <path d="M 519.727581 224.088167 
L 547.38004 207.624614 
L 547.935405 128.506664 
L 519.322829 144.398596 
z
" clip-path="url(#p42509064c3)" style="fill: #5c5933"/>
    <path d="M 544.478517 238.996571 
L 572.125908 222.121114 
L 595.047423 235.54888 
L 567.412372 252.810479 
z
" clip-path="url(#p42509064c3)" style="fill: #7e6a3b"/>
    <path d="M 549.978934 207.452008 
L 572.367426 220.548615 
L 574.032437 128.15389 
L 550.727817 115.592608 
z
" clip-path="url(#p42509064c3)" style="fill: #e18b4a"/>
    <path d="M 496.378963 211.77373 
L 495.239635 137.088063 
L 517.820277 149.85362 
L 518.250694 224.967467 
z
" clip-path="url(#p42509064c3)" style="fill: #546038"/>
    <path d="M 573.559611 221.246008 
L 575.358777 124.2522 
L 603.30391 108.573217 
L 600.404455 204.860411 
z
" clip-path="url(#p42509064c3)" style="fill: #e1743c"/>
    <path d="M 520.892309 224.789726 
L 520.511335 141.403409 
L 549.168082 125.520415 
L 548.544721 208.306902 
z
" clip-path="url(#p42509064c3)" style="fill: #d1b062"/>
    <path d="M 497.85547 210.913787 
L 519.727581 224.088167 
L 519.322829 144.398596 
L 496.698325 131.680406 
z
" clip-path="url(#p42509064c3)" style="fill: #c3bd6c"/>
    <path d="M 466.772923 227.648888 
L 495.241228 211.087412 
L 494.108698 139.16907 
L 464.716551 155.214907 
z
" clip-path="url(#p42509064c3)" style="fill: #4f633c"/>
    <path d="M 467.909844 228.35465 
L 465.811296 153.132383 
L 495.239635 137.088063 
L 496.378963 211.77373 
z
" clip-path="url(#p42509064c3)" style="fill: #b1cb78"/>
    <path d="M 445.423742 214.396038 
L 466.772923 227.648888 
L 464.716551 155.214907 
L 442.718205 142.37355 
z
" clip-path="url(#p42509064c3)" style="fill: #a7d27f"/>
    <path d="M 443.904464 215.261077 
L 441.148975 143.211453 
L 463.145951 156.072333 
L 465.252397 228.533456 
z
" clip-path="url(#p42509064c3)" style="fill: #4f633c"/>
    <path d="M 490.933806 242.647146 
L 519.415412 225.670063 
L 541.80896 239.178576 
L 513.322541 256.545315 
z
" clip-path="url(#p42509064c3)" style="fill: #6a7b49"/>
    <path d="M 414.609379 231.94097 
L 410.876535 159.37567 
L 441.148975 143.211453 
L 443.904464 215.261077 
z
" clip-path="url(#p42509064c3)" style="fill: #a7d27f"/>
    <path d="M 437.063864 246.319895 
L 466.389261 229.240264 
L 488.248057 242.830255 
L 458.90038 260.303097 
z
" clip-path="url(#p42509064c3)" style="fill: #61804f"/>
    <path d="M 442.718205 142.37355 
L 464.716551 155.214907 
L 494.108698 139.16907 
L 472.089762 126.690366 
z
" clip-path="url(#p42509064c3)" style="fill: #91b66e"/>
    <path d="M 496.698325 131.680406 
L 519.322829 144.398596 
L 547.935405 128.506664 
L 525.307963 116.147668 
z
" clip-path="url(#p42509064c3)" style="fill: #a9a45e"/>
    <path d="M 572.125908 222.121114 
L 573.623437 138.586505 
L 597.412871 151.533895 
L 595.047423 235.54888 
z
" clip-path="url(#p42509064c3)" style="fill: #63532e"/>
    <path d="M 624.523559 218.593229 
L 628.539295 120.325447 
L 653.050844 133.100002 
L 647.966349 231.94097 
z
" clip-path="url(#p42509064c3)" style="fill: #6a331b"/>
    <path d="M 596.480244 234.653902 
L 623.304182 217.898946 
L 627.209069 121.047981 
L 599.287622 137.095591 
z
" clip-path="url(#p42509064c3)" style="fill: #6a371c"/>
    <path d="M 543.285856 238.278187 
L 570.933687 221.422693 
L 572.382363 138.157598 
L 543.730718 154.412996 
z
" clip-path="url(#p42509064c3)" style="fill: #63532e"/>
    <path d="M 568.633983 253.546301 
L 596.268171 236.264013 
L 619.741465 250.01502 
L 592.12794 267.697579 
z
" clip-path="url(#p42509064c3)" style="fill: #796f3f"/>
    <path d="M 519.415412 225.670063 
L 519.027544 151.364294 
L 542.156703 164.449638 
L 541.80896 239.178576 
z
" clip-path="url(#p42509064c3)" style="fill: #536039"/>
    <path d="M 544.478517 238.996571 
L 544.969339 154.859976 
L 573.623437 138.586505 
L 572.125908 222.121114 
z
" clip-path="url(#p42509064c3)" style="fill: #d1b062"/>
    <path d="M 550.727817 115.592608 
L 574.032437 128.15389 
L 601.926799 112.458126 
L 578.636997 100.252415 
z
" clip-path="url(#p42509064c3)" style="fill: #c37940"/>
    <path d="M 597.700934 235.367969 
L 600.603651 136.381837 
L 628.539295 120.325447 
L 624.523559 218.593229 
z
" clip-path="url(#p42509064c3)" style="fill: #e16d38"/>
    <path d="M 489.769536 241.924407 
L 518.250694 224.967467 
L 517.820277 149.85362 
L 488.378664 166.273964 
z
" clip-path="url(#p42509064c3)" style="fill: #546038"/>
    <path d="M 573.559611 221.246008 
L 596.480244 234.653902 
L 599.287622 137.095591 
L 575.358777 124.2522 
z
" clip-path="url(#p42509064c3)" style="fill: #e1743c"/>
    <path d="M 520.892309 224.789726 
L 543.285856 238.278187 
L 543.730718 154.412996 
L 520.511335 141.403409 
z
" clip-path="url(#p42509064c3)" style="fill: #d1b062"/>
    <path d="M 490.933806 242.647146 
L 489.596063 167.811115 
L 519.027544 151.364294 
L 519.415412 225.670063 
z
" clip-path="url(#p42509064c3)" style="fill: #afcc79"/>
    <path d="M 466.389261 229.240264 
L 464.370085 158.58645 
L 486.893274 171.776069 
L 488.248057 242.830255 
z
" clip-path="url(#p42509064c3)" style="fill: #4c643d"/>
    <path d="M 467.909844 228.35465 
L 489.769536 241.924407 
L 488.378664 166.273964 
L 465.811296 153.132383 
z
" clip-path="url(#p42509064c3)" style="fill: #b1cb78"/>
    <path d="M 514.515159 257.285652 
L 543.001632 239.898034 
L 565.935897 253.732726 
L 537.452378 271.524301 
z
" clip-path="url(#p42509064c3)" style="fill: #60814f"/>
    <path d="M 435.928352 245.59276 
L 465.252397 228.533456 
L 463.145951 156.072333 
L 432.841686 172.616116 
z
" clip-path="url(#p42509064c3)" style="fill: #4f633c"/>
    <path d="M 437.063864 246.319895 
L 434.089104 175.164406 
L 464.370085 158.58645 
L 466.389261 229.240264 
z
" clip-path="url(#p42509064c3)" style="fill: #a1d482"/>
    <path d="M 414.609379 231.94097 
L 435.928352 245.59276 
L 432.841686 172.616116 
L 410.876535 159.37567 
z
" clip-path="url(#p42509064c3)" style="fill: #a7d27f"/>
    <path d="M 460.063625 261.047991 
L 489.41229 243.554079 
L 511.800509 257.473221 
L 482.436761 275.374823 
z
" clip-path="url(#p42509064c3)" style="fill: #558657"/>
    <path d="M 596.268171 236.264013 
L 598.605885 154.819634 
L 622.961348 168.106319 
L 619.741465 250.01502 
z
" clip-path="url(#p42509064c3)" style="fill: #5e5731"/>
    <path d="M 543.001632 239.898034 
L 543.368126 169.181077 
L 567.032768 182.617232 
L 565.935897 253.732726 
z
" clip-path="url(#p42509064c3)" style="fill: #4b653e"/>
    <path d="M 465.811296 153.132383 
L 488.378664 166.273964 
L 517.820277 149.85362 
L 495.239635 137.088063 
z
" clip-path="url(#p42509064c3)" style="fill: #9ab068"/>
    <path d="M 520.511335 141.403409 
L 543.730718 154.412996 
L 572.382363 138.157598 
L 549.168082 125.520415 
z
" clip-path="url(#p42509064c3)" style="fill: #b59955"/>
    <path d="M 567.412372 252.810479 
L 595.047423 235.54888 
L 597.412871 151.533895 
L 568.772541 168.193734 
z
" clip-path="url(#p42509064c3)" style="fill: #63532e"/>
    <path d="M 568.633983 253.546301 
L 569.997544 171.520127 
L 598.605885 154.819634 
L 596.268171 236.264013 
z
" clip-path="url(#p42509064c3)" style="fill: #c8b968"/>
    <path d="M 621.17291 249.098381 
L 647.966349 231.94097 
L 653.050844 133.100002 
L 625.148375 149.538852 
z
" clip-path="url(#p42509064c3)" style="fill: #6a331b"/>
    <path d="M 514.515159 257.285652 
L 513.982581 186.069365 
L 543.368126 169.181077 
L 543.001632 239.898034 
z
" clip-path="url(#p42509064c3)" style="fill: #9fd583"/>
    <path d="M 513.322541 256.545315 
L 541.80896 239.178576 
L 542.156703 164.449638 
L 512.719913 181.286588 
z
" clip-path="url(#p42509064c3)" style="fill: #536039"/>
    <path d="M 489.41229 243.554079 
L 488.192159 177.803969 
L 511.225982 191.354982 
L 511.800509 257.473221 
z
" clip-path="url(#p42509064c3)" style="fill: #426844"/>
    <path d="M 410.876535 159.37567 
L 432.841686 172.616116 
L 463.145951 156.072333 
L 441.148975 143.211453 
z
" clip-path="url(#p42509064c3)" style="fill: #91b66e"/>
    <path d="M 544.478517 238.996571 
L 567.412372 252.810479 
L 568.772541 168.193734 
L 544.969339 154.859976 
z
" clip-path="url(#p42509064c3)" style="fill: #d1b062"/>
    <path d="M 597.700934 235.367969 
L 621.17291 249.098381 
L 625.148375 149.538852 
L 600.603651 136.381837 
z
" clip-path="url(#p42509064c3)" style="fill: #e16d38"/>
    <path d="M 490.933806 242.647146 
L 513.322541 256.545315 
L 512.719913 181.286588 
L 489.596063 167.811115 
z
" clip-path="url(#p42509064c3)" style="fill: #afcc79"/>
    <path d="M 575.358777 124.2522 
L 599.287622 137.095591 
L 627.209069 121.047981 
L 603.30391 108.573217 
z
" clip-path="url(#p42509064c3)" style="fill: #c36534"/>
    <path d="M 460.063625 261.047991 
L 457.957475 194.836674 
L 488.192159 177.803969 
L 489.41229 243.554079 
z
" clip-path="url(#p42509064c3)" style="fill: #8cdd8f"/>
    <path d="M 538.674392 272.282886 
L 567.157541 254.469661 
L 590.652346 268.642489 
L 562.1805 286.874683 
z
" clip-path="url(#p42509064c3)" style="fill: #518658"/>
    <path d="M 458.90038 260.303097 
L 488.248057 242.830255 
L 486.893274 171.776069 
L 456.587838 188.747862 
z
" clip-path="url(#p42509064c3)" style="fill: #4c643d"/>
    <path d="M 437.063864 246.319895 
L 458.90038 260.303097 
L 456.587838 188.747862 
L 434.089104 175.164406 
z
" clip-path="url(#p42509064c3)" style="fill: #a1d482"/>
    <path d="M 483.628768 276.138135 
L 512.99311 258.214682 
L 535.930222 272.47508 
L 506.55855 290.82142 
z
" clip-path="url(#p42509064c3)" style="fill: #428861"/>
    <path d="M 567.157541 254.469661 
L 568.189374 189.87053 
L 592.380431 203.684359 
L 590.652346 268.642489 
z
" clip-path="url(#p42509064c3)" style="fill: #406945"/>
    <path d="M 489.596063 167.811115 
L 512.719913 181.286588 
L 542.156703 164.449638 
L 519.027544 151.364294 
z
" clip-path="url(#p42509064c3)" style="fill: #98b169"/>
    <path d="M 538.674392 272.282886 
L 538.890064 207.234034 
L 568.189374 189.87053 
L 567.157541 254.469661 
z
" clip-path="url(#p42509064c3)" style="fill: #87df93"/>
    <path d="M 592.12794 267.697579 
L 619.741465 250.01502 
L 622.961348 168.106319 
L 594.376013 185.20788 
z
" clip-path="url(#p42509064c3)" style="fill: #5e5731"/>
    <path d="M 512.99311 258.214682 
L 512.521113 200.373985 
L 536.051424 214.315726 
L 535.930222 272.47508 
z
" clip-path="url(#p42509064c3)" style="fill: #346a4c"/>
    <path d="M 544.969339 154.859976 
L 568.772541 168.193734 
L 597.412871 151.533895 
L 573.623437 138.586505 
z
" clip-path="url(#p42509064c3)" style="fill: #b59955"/>
    <path d="M 537.452378 271.524301 
L 565.935897 253.732726 
L 567.032768 182.617232 
L 537.650467 199.910467 
z
" clip-path="url(#p42509064c3)" style="fill: #4b653e"/>
    <path d="M 434.089104 175.164406 
L 456.587838 188.747862 
L 486.893274 171.776069 
L 464.370085 158.58645 
z
" clip-path="url(#p42509064c3)" style="fill: #8cb871"/>
    <path d="M 568.633983 253.546301 
L 592.12794 267.697579 
L 594.376013 185.20788 
L 569.997544 171.520127 
z
" clip-path="url(#p42509064c3)" style="fill: #c8b968"/>
    <path d="M 483.628768 276.138135 
L 482.380717 217.898279 
L 512.521113 200.373985 
L 512.99311 258.214682 
z
" clip-path="url(#p42509064c3)" style="fill: #6ee1a1"/>
    <path d="M 514.515159 257.285652 
L 537.452378 271.524301 
L 537.650467 199.910467 
L 513.982581 186.069365 
z
" clip-path="url(#p42509064c3)" style="fill: #9fd583"/>
    <path d="M 482.436761 275.374823 
L 511.800509 257.473221 
L 511.225982 191.354982 
L 480.974839 208.796489 
z
" clip-path="url(#p42509064c3)" style="fill: #426844"/>
    <path d="M 600.603651 136.381837 
L 625.148375 149.538852 
L 653.050844 133.100002 
L 628.539295 120.325447 
z
" clip-path="url(#p42509064c3)" style="fill: #c35f31"/>
    <path d="M 460.063625 261.047991 
L 482.436761 275.374823 
L 480.974839 208.796489 
L 457.957475 194.836674 
z
" clip-path="url(#p42509064c3)" style="fill: #8cdd8f"/>
    <path d="M 507.780399 291.603841 
L 537.152242 273.234831 
L 560.658683 287.849191 
L 531.287864 306.65705 
z
" clip-path="url(#p42509064c3)" style="fill: #2b826d"/>
    <path d="M 537.152242 273.234831 
L 537.27797 225.491722 
L 561.295955 239.848242 
L 560.658683 287.849191 
z
" clip-path="url(#p42509064c3)" style="fill: #226655"/>
    <path d="M 513.982581 186.069365 
L 537.650467 199.910467 
L 567.032768 182.617232 
L 543.368126 169.181077 
z
" clip-path="url(#p42509064c3)" style="fill: #8ab972"/>
    <path d="M 457.957475 194.836674 
L 480.974839 208.796489 
L 511.225982 191.354982 
L 488.192159 177.803969 
z
" clip-path="url(#p42509064c3)" style="fill: #7ac07c"/>
    <path d="M 507.780399 291.603841 
L 507.268787 243.537821 
L 537.27797 225.491722 
L 537.152242 273.234831 
z
" clip-path="url(#p42509064c3)" style="fill: #47d8b5"/>
    <path d="M 562.1805 286.874683 
L 590.652346 268.642489 
L 592.380431 203.684359 
L 563.093441 221.468305 
z
" clip-path="url(#p42509064c3)" style="fill: #406945"/>
    <path d="M 569.997544 171.520127 
L 594.376013 185.20788 
L 622.961348 168.106319 
L 598.605885 154.819634 
z
" clip-path="url(#p42509064c3)" style="fill: #aea05a"/>
    <path d="M 538.674392 272.282886 
L 562.1805 286.874683 
L 563.093441 221.468305 
L 538.890064 207.234034 
z
" clip-path="url(#p42509064c3)" style="fill: #87df93"/>
    <path d="M 506.55855 290.82142 
L 535.930222 272.47508 
L 536.051424 214.315726 
L 505.903109 232.264431 
z
" clip-path="url(#p42509064c3)" style="fill: #346a4c"/>
    <path d="M 483.628768 276.138135 
L 506.55855 290.82142 
L 505.903109 232.264431 
L 482.380717 217.898279 
z
" clip-path="url(#p42509064c3)" style="fill: #6ee1a1"/>
    <path d="M 538.890064 207.234034 
L 563.093441 221.468305 
L 592.380431 203.684359 
L 568.189374 189.87053 
z
" clip-path="url(#p42509064c3)" style="fill: #75c17f"/>
    <path d="M 482.380717 217.898279 
L 505.903109 232.264431 
L 536.051424 214.315726 
L 512.521113 200.373985 
z
" clip-path="url(#p42509064c3)" style="fill: #5fc38c"/>
    <path d="M 531.287864 306.65705 
L 560.658683 287.849191 
L 561.295955 239.848242 
L 531.287864 258.334959 
z
" clip-path="url(#p42509064c3)" style="fill: #226655"/>
    <path d="M 507.780399 291.603841 
L 531.287864 306.65705 
L 531.287864 258.334959 
L 507.268787 243.537821 
z
" clip-path="url(#p42509064c3)" style="fill: #47d8b5"/>
    <path d="M 507.268787 243.537821 
L 531.287864 258.334959 
L 561.295955 239.848242 
L 537.27797 225.491722 
z
" clip-path="url(#p42509064c3)" style="fill: #3ebb9d"/>
   </g>
   <g id="text_64">
    <text style="font-size: 12px; font-family: 'DejaVu Sans', sans-serif; text-anchor: middle" transform="translate(527.216 21.263) scale(0.990 1)">f(x,y)</text>
   </g>
   <g id="legend_2" transform="translate(0.576 0.000)">
    <g id="patch_9">
     <path d="M 605.639605 49.940925 
L 670.88648 49.940925 
Q 672.88648 49.940925 672.88648 47.940925 
L 672.88648 34.2628 
Q 672.88648 32.2628 670.88648 32.2628 
L 605.639605 32.2628 
Q 603.639605 32.2628 603.639605 34.2628 
L 603.639605 47.940925 
Q 603.639605 49.940925 605.639605 49.940925 
z
" style="fill: #ffffff; opacity: 0.8; stroke: #cccccc; stroke-linejoin: miter"/>
    </g>
    <g id="line2d_65">
     <g>
      <use href="#mdc82b86219" x="618.2516" y="40.7212" style="fill: #ff0000; stroke: #ff0000"/>
     </g>
    </g>
    <g id="text_65">
     <text style="font-size: 10px; font-family: 'DejaVu Sans', sans-serif; text-anchor: start" transform="translate(635.856 44.005) scale(0.965 1)">[0,0,0]</text>
    </g>
   </g>
  </g>
  <g id="axes_3">
   <g id="patch_10">
    <path d="M 700.992 328.608 
L 715.32 328.608 
L 715.32 27.144 
L 700.992 27.144 
z
" style="fill: #ffffff"/>
   </g>
   <defs><linearGradient id="cbgrad" x1="0" y1="0" x2="0" y2="1"><stop offset="0.0000" stop-color="#ff0000"/><stop offset="0.0312" stop-color="#ff160b"/><stop offset="0.0625" stop-color="#ff2f18"/><stop offset="0.0938" stop-color="#ff4724"/><stop offset="0.1250" stop-color="#ff5f30"/><stop offset="0.1562" stop-color="#ff763d"/><stop offset="0.1875" stop-color="#ff8c49"/><stop offset="0.2188" stop-color="#ffa055"/><stop offset="0.2500" stop-color="#ffb360"/><stop offset="0.2812" stop-color="#f0c46c"/><stop offset="0.3125" stop-color="#e0d377"/><stop offset="0.3438" stop-color="#d0e082"/><stop offset="0.3750" stop-color="#c0eb8d"/><stop offset="0.4062" stop-color="#b0f397"/><stop offset="0.4375" stop-color="#a0faa1"/><stop offset="0.4688" stop-color="#90feab"/><stop offset="0.5000" stop-color="#80ffb4"/><stop offset="0.5312" stop-color="#70febc"/><stop offset="0.5625" stop-color="#60fac5"/><stop offset="0.5938" stop-color="#50f4cc"/><stop offset="0.6250" stop-color="#40ecd4"/><stop offset="0.6562" stop-color="#30e1da"/><stop offset="0.6875" stop-color="#20d5e1"/><stop offset="0.7188" stop-color="#10c6e6"/><stop offset="0.7500" stop-color="#00b5eb"/><stop offset="0.7812" stop-color="#10a2f0"/><stop offset="0.8125" stop-color="#208ef4"/><stop offset="0.8438" stop-color="#3079f7"/><stop offset="0.8750" stop-color="#4062fa"/><stop offset="0.9062" stop-color="#504afc"/><stop offset="0.9375" stop-color="#6032fe"/><stop offset="0.9688" stop-color="#7019ff"/><stop offset="1.0000" stop-color="#8000ff"/></linearGradient></defs><rect x="700.992" y="27.144" width="14.328" height="301.464" fill="url(#cbgrad)"/>
   <g id="matplotlib.axis_1"/>
   <g id="matplotlib.axis_2">
    <g id="ytick_1">
     <g id="line2d_66">
      <defs>
       <path id="m9f3f856b58" d="M 0 0 
L 3.5 0 
" style="stroke: #000000; stroke-width: 0.8"/>
      </defs>
      <g>
       <use href="#m9f3f856b58" x="715.32" y="328.608" style="stroke: #000000; stroke-width: 0.8"/>
      </g>
     </g>
     <g id="text_66">
      <text style="font-size: 10px; font-family: 'DejaVu Sans', sans-serif; text-anchor: start" transform="translate(722.536 332.839) scale(0.935 1)">0.0</text>
     </g>
    </g>
    <g id="ytick_2">
     <g id="line2d_67">
      <g>
       <use href="#m9f3f856b58" x="715.32" y="291.175813" style="stroke: #000000; stroke-width: 0.8"/>
      </g>
     </g>
     <g id="text_67">
      <text style="font-size: 10px; font-family: 'DejaVu Sans', sans-serif; text-anchor: start" transform="translate(722.536 295.407) scale(0.935 1)">0.2</text>
     </g>
    </g>
    <g id="ytick_3">
     <g id="line2d_68">
      <g>
       <use href="#m9f3f856b58" x="715.32" y="253.743626" style="stroke: #000000; stroke-width: 0.8"/>
      </g>
     </g>
     <g id="text_68">
      <text style="font-size: 10px; font-family: 'DejaVu Sans', sans-serif; text-anchor: start" transform="translate(722.536 257.975) scale(0.935 1)">0.4</text>
     </g>
    </g>
    <g id="ytick_4">
     <g id="line2d_69">
      <g>
       <use href="#m9f3f856b58" x="715.32" y="216.311439" style="stroke: #000000; stroke-width: 0.8"/>
      </g>
     </g>
     <g id="text_69">
      <text style="font-size: 10px; font-family: 'DejaVu Sans', sans-serif; text-anchor: start" transform="translate(722.536 220.543) scale(0.935 1)">0.6</text>
     </g>
    </g>
    <g id="ytick_5">
     <g id="line2d_70">
      <g>
       <use href="#m9f3f856b58" x="715.32" y="178.879251" style="stroke: #000000; stroke-width: 0.8"/>
      </g>
     </g>
     <g id="text_70">
      <text style="font-size: 10px; font-family: 'DejaVu Sans', sans-serif; text-anchor: start" transform="translate(722.536 183.110) scale(0.935 1)">0.8</text>
     </g>
    </g>
    <g id="ytick_6">
     <g id="line2d_71">
      <g>
       <use href="#m9f3f856b58" x="715.32" y="141.447064" style="stroke: #000000; stroke-width: 0.8"/>
      </g>
     </g>
     <g id="text_71">
      <text style="font-size: 10px; font-family: 'DejaVu Sans', sans-serif; text-anchor: start" transform="translate(722.536 145.678) scale(0.935 1)">1.0</text>
     </g>
    </g>
    <g id="ytick_7">
     <g id="line2d_72">
      <g>
       <use href="#m9f3f856b58" x="715.32" y="104.014877" style="stroke: #000000; stroke-width: 0.8"/>
      </g>
     </g>
     <g id="text_72">
      <text style="font-size: 10px; font-family: 'DejaVu Sans', sans-serif; text-anchor: start" transform="translate(722.536 108.246) scale(0.935 1)">1.2</text>
     </g>
    </g>
    <g id="ytick_8">
     <g id="line2d_73">
      <g>
       <use href="#m9f3f856b58" x="715.32" y="66.58269" style="stroke: #000000; stroke-width: 0.8"/>
      </g>
     </g>
     <g id="text_73">
      <text style="font-size: 10px; font-family: 'DejaVu Sans', sans-serif; text-anchor: start" transform="translate(722.536 70.814) scale(0.935 1)">1.4</text>
     </g>
    </g>
    <g id="ytick_9">
     <g id="line2d_74">
      <g>
       <use href="#m9f3f856b58" x="715.32" y="29.150503" style="stroke: #000000; stroke-width: 0.8"/>
      </g>
     </g>
     <g id="text_74">
      <text style="font-size: 10px; font-family: 'DejaVu Sans', sans-serif; text-anchor: start" transform="translate(722.536 33.382) scale(0.935 1)">1.6</text>
     </g>
    </g>
    <g id="text_75">
     <text style="font-size: 10px; font-family: 'DejaVu Sans', sans-serif; text-anchor: middle" transform="translate(749.822 179.532) rotate(-90) scale(0.970 1)">F[xi,yj]</text>
    </g>
   </g>
   <g id="LineCollection_1"/>
   <g id="patch_11">
    <path d="M 700.992 328.608 
L 708.156 328.608 
L 715.32 328.608 
L 715.32 27.144 
L 708.156 27.144 
L 700.992 27.144 
L 700.992 328.608 
z
" style="fill: none; stroke: #000000; stroke-width: 0.8; stroke-linejoin: miter; stroke-linecap: square"/>
   </g>
  </g>
 </g>
 <defs>
  <clipPath id="pf2d1e078a7">
   <rect x="-1.28664" y="26.78544" width="307.7208" height="307.7208"/>
  </clipPath>
  <clipPath id="p42509064c3">
   <rect x="376.54488" y="27.2628" width="301.3416" height="301.3416"/>
  </clipPath>
 </defs>
</svg>

</body></html>
